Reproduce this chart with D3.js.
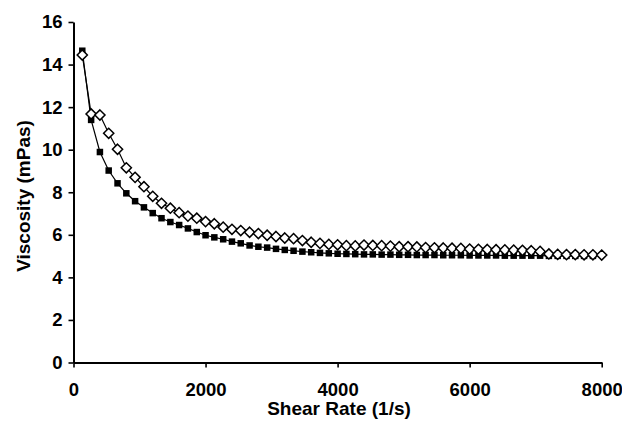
<!DOCTYPE html>
<html>
<head>
<meta charset="utf-8">
<script src="https://cdn.jsdelivr.net/npm/d3@7"></script>
<style>
  html, body { margin: 0; padding: 0; background: #fff; }
  svg { display: block; }
  text { font-family: "Liberation Sans", Arial, Helvetica, sans-serif; font-weight: bold; fill: #000; }
</style>
</head>
<body>
<svg id="chart" width="622" height="431"></svg>
<script>
// Shear rate (1/s) of each measurement
const shearRate = [133, 267, 400, 533, 667, 800, 933, 1067, 1200, 1333,
  1467, 1600, 1733, 1867, 2000, 2133, 2267, 2400, 2533, 2667,
  2800, 2933, 3067, 3200, 3333, 3467, 3600, 3733, 3867, 4000,
  4133, 4267, 4400, 4533, 4667, 4800, 4933, 5067, 5200, 5333,
  5467, 5600, 5733, 5867, 6000, 6133, 6267, 6400, 6533, 6667,
  6800, 6933, 7067, 7200, 7333, 7467, 7600, 7733, 7867, 8000];

// Filled squares series (viscosity, mPas) – 59 points
const viscSquares = [14.65, 11.40, 9.89, 9.02, 8.42, 7.95, 7.58, 7.29, 7.02, 6.78,
  6.60, 6.46, 6.30, 6.13, 5.98, 5.88, 5.79, 5.68, 5.60, 5.50,
  5.44, 5.40, 5.34, 5.29, 5.25, 5.21, 5.18, 5.15, 5.13, 5.11,
  5.10, 5.09, 5.08, 5.08, 5.07, 5.07, 5.06, 5.06, 5.05, 5.05,
  5.05, 5.04, 5.04, 5.04, 5.03, 5.03, 5.03, 5.03, 5.02, 5.02,
  5.02, 5.02, 5.02, 5.01, 5.01, 5.01, 5.01, 5.01, 5.01];

// Open diamonds series (viscosity, mPas) – 60 points
const viscDiamonds = [14.45, 11.68, 11.63, 10.77, 10.02, 9.15, 8.70, 8.26, 7.81, 7.48,
  7.25, 7.04, 6.88, 6.78, 6.62, 6.52, 6.36, 6.26, 6.20, 6.12,
  6.06, 5.98, 5.92, 5.85, 5.82, 5.73, 5.65, 5.60, 5.55, 5.53,
  5.49, 5.48, 5.52, 5.50, 5.49, 5.47, 5.44, 5.44, 5.43, 5.40,
  5.39, 5.38, 5.37, 5.36, 5.33, 5.32, 5.31, 5.30, 5.29, 5.28,
  5.27, 5.25, 5.22, 5.10, 5.08, 5.07, 5.07, 5.06, 5.06, 5.05];

const xTicks = [0, 2000, 4000, 6000, 8000];
const yTicks = [0, 2, 4, 6, 8, 10, 12, 14, 16];
const xTitle = "Shear Rate (1/s)";
const yTitle = "Viscosity (mPas)";

const svg = d3.select("#chart");
svg.append("rect").attr("width", 622).attr("height", 431).attr("fill", "#fff");

const x = d3.scaleLinear().domain([0, 8000]).range([73.5, 601.7]);
const y = d3.scaleLinear().domain([0, 16]).range([362.5, 22]);

const sq = viscSquares.map((v, i) => ({ x: shearRate[i], y: v }));
const di = viscDiamonds.map((v, i) => ({ x: shearRate[i], y: v }));

// axes
const yAxis = svg.append("g").attr("transform", `translate(${x(0)},0)`)
  .call(d3.axisLeft(y).tickValues(yTicks).tickFormat(d3.format("d")).tickSize(5).tickSizeOuter(0).tickPadding(6));
const xAxis = svg.append("g").attr("transform", `translate(0,${y(0)})`)
  .call(d3.axisBottom(x).tickValues(xTicks).tickFormat(d3.format("d")).tickSize(5).tickSizeOuter(0).tickPadding(15));
[yAxis, xAxis].forEach(g => {
  g.select(".domain").attr("stroke", "#000").attr("stroke-width", 2);
  g.selectAll(".tick line").attr("stroke", "#000").attr("stroke-width", 1.6);
  g.selectAll(".tick text").style("font-size", "18.5px")
    .style("font-family", '"Liberation Sans", Arial, sans-serif').style("font-weight", "bold").attr("fill", "#000");
});

const line = d3.line().x(d => x(d.x)).y(d => y(d.y));

// squares series
svg.append("path").datum(sq).attr("d", line).attr("fill", "none").attr("stroke", "#000").attr("stroke-width", 1.2);
svg.append("g").selectAll("rect").data(sq).join("rect")
  .attr("x", d => x(d.x) - 3.25).attr("y", d => y(d.y) - 3.25)
  .attr("width", 6.5).attr("height", 6.5).attr("fill", "#000");

// diamonds series
svg.append("path").datum(di).attr("d", line).attr("fill", "none").attr("stroke", "#000").attr("stroke-width", 1.2);
const dsym = d3.symbol().type(d3.symbolDiamond2).size(66);
svg.append("g").selectAll("path").data(di).join("path")
  .attr("d", dsym)
  .attr("transform", d => `translate(${x(d.x)},${y(d.y)})`)
  .attr("fill", "#fff").attr("stroke", "#000").attr("stroke-width", 1.5);

// titles
svg.append("text").attr("x", 339).attr("y", 415).attr("text-anchor", "middle")
  .style("font-size", "19px").text(xTitle);
svg.append("text").attr("transform", "translate(30,196) rotate(-90)").attr("text-anchor", "middle")
  .style("font-size", "19px").text(yTitle);
</script>
</body>
</html>
